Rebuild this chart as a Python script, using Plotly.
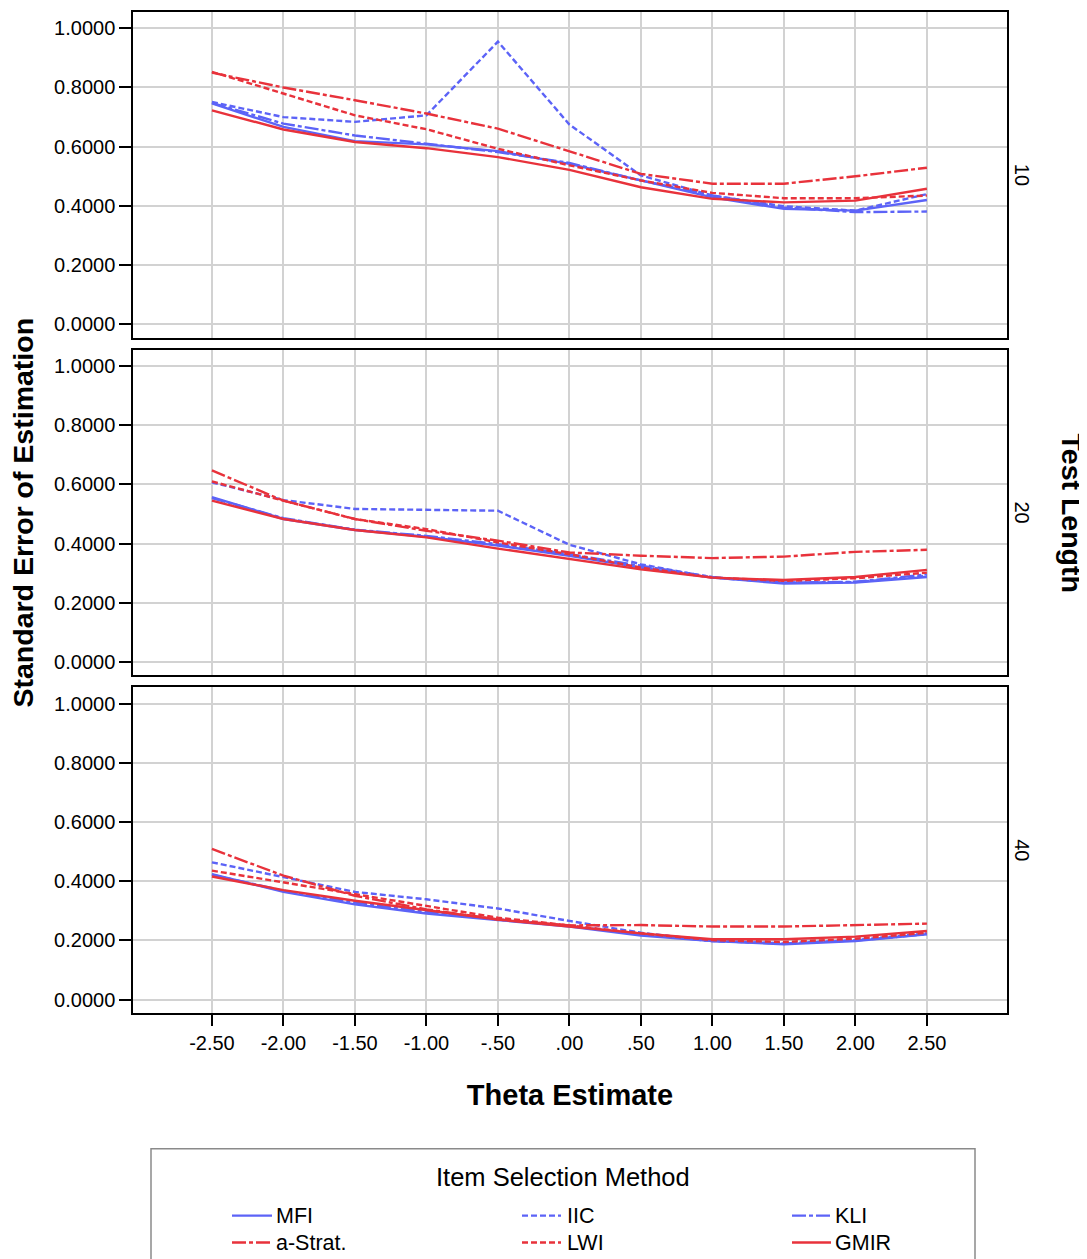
import plotly.graph_objects as go
from plotly.subplots import make_subplots

theta = [-2.5, -2.0, -1.5, -1.0, -0.5, 0.0, 0.5, 1.0, 1.5, 2.0, 2.5]
theta_labels = ["-2.50", "-2.00", "-1.50", "-1.00", "-.50", ".00", ".50", "1.00", "1.50", "2.00", "2.50"]
test_lengths = ["10", "20", "40"]
methods = ["MFI", "IIC", "KLI", "a-Strat.", "LWI", "GMIR"]

# Standard error of estimation, per test length
mfi_10 = [0.746, 0.667, 0.619, 0.608, 0.585, 0.542, 0.486, 0.429, 0.390, 0.384, 0.420]
iic_10 = [0.751, 0.700, 0.684, 0.706, 0.955, 0.675, 0.503, 0.435, 0.399, 0.384, 0.440]
kli_10 = [0.748, 0.678, 0.638, 0.610, 0.582, 0.545, 0.486, 0.435, 0.395, 0.379, 0.381]
astrat_10 = [0.850, 0.800, 0.757, 0.712, 0.661, 0.585, 0.508, 0.475, 0.475, 0.500, 0.529]
lwi_10 = [0.853, 0.780, 0.706, 0.659, 0.593, 0.537, 0.486, 0.444, 0.426, 0.426, 0.435]
gmir_10 = [0.723, 0.658, 0.616, 0.595, 0.565, 0.522, 0.463, 0.424, 0.412, 0.418, 0.458]

mfi_20 = [0.557, 0.483, 0.446, 0.423, 0.393, 0.359, 0.319, 0.285, 0.265, 0.268, 0.287]
iic_20 = [0.607, 0.547, 0.517, 0.514, 0.511, 0.396, 0.330, 0.285, 0.268, 0.270, 0.291]
kli_20 = [0.554, 0.486, 0.447, 0.426, 0.398, 0.364, 0.325, 0.287, 0.268, 0.271, 0.296]
astrat_20 = [0.647, 0.545, 0.483, 0.443, 0.410, 0.370, 0.359, 0.351, 0.356, 0.372, 0.379]
lwi_20 = [0.610, 0.545, 0.483, 0.449, 0.404, 0.364, 0.319, 0.285, 0.274, 0.283, 0.302]
gmir_20 = [0.545, 0.483, 0.446, 0.421, 0.383, 0.347, 0.313, 0.285, 0.277, 0.287, 0.311]

mfi_40 = [0.424, 0.364, 0.322, 0.291, 0.269, 0.247, 0.217, 0.198, 0.187, 0.198, 0.221]
iic_40 = [0.464, 0.413, 0.364, 0.339, 0.308, 0.266, 0.226, 0.198, 0.190, 0.201, 0.224]
kli_40 = [0.422, 0.368, 0.328, 0.296, 0.271, 0.249, 0.221, 0.198, 0.190, 0.200, 0.221]
astrat_40 = [0.509, 0.419, 0.351, 0.305, 0.271, 0.251, 0.252, 0.247, 0.247, 0.251, 0.257]
lwi_40 = [0.436, 0.396, 0.356, 0.317, 0.277, 0.251, 0.224, 0.201, 0.195, 0.206, 0.226]
gmir_40 = [0.416, 0.370, 0.334, 0.303, 0.271, 0.247, 0.224, 0.204, 0.204, 0.213, 0.232]

y_ticks = [0.0, 0.2, 0.4, 0.6, 0.8, 1.0]

panels = [
    [mfi_10, iic_10, kli_10, astrat_10, lwi_10, gmir_10],
    [mfi_20, iic_20, kli_20, astrat_20, lwi_20, gmir_20],
    [mfi_40, iic_40, kli_40, astrat_40, lwi_40, gmir_40],
]

BLUE = "#5c63f7"
RED = "#e8323b"
styles = {
    "MFI": (BLUE, "solid"),
    "IIC": (BLUE, "6px,3px"),
    "KLI": (BLUE, "14px,3px,4px,3px"),
    "a-Strat.": (RED, "14px,3px,4px,3px"),
    "LWI": (RED, "6px,3px"),
    "GMIR": (RED, "solid"),
}

# page body has an 8px margin, so the figure is sized/positioned to compensate
OFF = 8
W, H = 1087 - OFF, 1259 - OFF
ML, MR, MT, MB = 133 - OFF, 80, 10 - OFF, 246
PW = W - ML - MR
PH = H - MT - MB

def px_to_paper(px, py):
    # px, py given in screenshot pixels
    return (px - OFF - ML) / PW, (H - MB - (py - OFF)) / PH

fig = make_subplots(rows=3, cols=1, shared_xaxes=True, vertical_spacing=0.012)

draw_order = ["IIC", "KLI", "MFI", "LWI", "a-Strat.", "GMIR"]
for r, series in enumerate(panels, start=1):
    for name in draw_order:
        vals = series[methods.index(name)]
        color, dash = styles[name]
        fig.add_trace(go.Scatter(
            x=theta, y=vals, mode="lines", name=name,
            line=dict(color=color, width=2.4, dash=dash),
            showlegend=False,
        ), row=r, col=1)

FONT = "Liberation Sans, Arial, sans-serif"
for r in range(1, 4):
    fig.update_yaxes(
        range=[-0.045, 1.055], tickvals=y_ticks,
        ticktext=[f"{v:.4f}" for v in y_ticks],
        ticks="outside", ticklen=12, tickwidth=2, tickcolor="black",
        showline=True, linecolor="black", linewidth=1.5, mirror=True,
        showgrid=True, gridcolor="#d2d2d2", gridwidth=2,
        zeroline=False,
        tickfont=dict(family=FONT, size=20, color="black"),
        row=r, col=1,
    )
    fig.update_xaxes(
        range=[-3.052, 3.06], tickvals=theta, ticktext=theta_labels,
        showline=True, linecolor="black", linewidth=1.5, mirror=True,
        showgrid=True, gridcolor="#d2d2d2", gridwidth=2,
        zeroline=False,
        ticks="outside" if r == 3 else "", ticklen=11, tickwidth=2, tickcolor="black",
        showticklabels=(r == 3),
        tickfont=dict(family=FONT, size=20, color="black"),
        row=r, col=1,
    )

fig.update_xaxes(title=dict(text="<b>Theta Estimate</b>", font=dict(family=FONT, size=29, color="black"), standoff=32), row=3, col=1)

annotations = []
# facet labels on right
for r, lab in enumerate(test_lengths, start=1):
    yaxis = fig.layout["yaxis" if r == 1 else f"yaxis{r}"]
    d = yaxis.domain
    annotations.append(dict(
        text=lab, xref="paper", yref="paper", x=1.0, y=(d[0] + d[1]) / 2,
        xanchor="left", yanchor="middle", xshift=2, textangle=90, showarrow=False,
        font=dict(family=FONT, size=20, color="black"),
    ))
annotations.append(dict(
    text="<b>Test Length</b>", xref="paper", yref="paper", x=1.0, y=0.5,
    xanchor="left", yanchor="middle", xshift=47, textangle=90, showarrow=False,
    font=dict(family=FONT, size=28.5, color="black"),
))
annotations.append(dict(
    text="<b>Standard Error of Estimation</b>", xref="paper", yref="paper", x=0.0, y=0.5,
    xanchor="right", yanchor="middle", xshift=-93, textangle=-90, showarrow=False,
    font=dict(family=FONT, size=28.5, color="black"),
))

# legend box, drawn manually
shapes = []
x0, y0 = px_to_paper(151, 1149)
x1, y1 = px_to_paper(975, 1265)
shapes.append(dict(type="rect", xref="paper", yref="paper", x0=x0, y0=y0, x1=x1, y1=y1,
                   line=dict(color="#8a8a8a", width=1.5), fillcolor="white", layer="above"))
tx, ty = px_to_paper(563, 1177)
annotations.append(dict(text="Item Selection Method", xref="paper", yref="paper", x=tx, y=ty,
                        xanchor="center", yanchor="middle", showarrow=False,
                        font=dict(family=FONT, size=25.5, color="black")))
col_x = [(232, 272, 274), (522, 561, 565), (792, 831, 833)]
row_y = [1216, 1243]
for i, name in enumerate(methods):
    rr, cc = divmod(i, 3)
    lx0, lx1, txx = col_x[cc]
    py = row_y[rr]
    color, dash = styles[name]
    a0, b0 = px_to_paper(lx0, py)
    a1, _ = px_to_paper(lx1, py)
    shapes.append(dict(type="line", xref="paper", yref="paper", x0=a0, y0=b0, x1=a1, y1=b0,
                       line=dict(color=color, width=2.4, dash=dash), layer="above"))
    at, bt = px_to_paper(txx, py)
    annotations.append(dict(text=name, xref="paper", yref="paper", x=at, y=bt,
                            xanchor="left", yanchor="middle", showarrow=False,
                            font=dict(family=FONT, size=21.5, color="black")))

fig.update_layout(
    width=W, height=H,
    margin=dict(l=ML, r=MR, t=MT, b=MB),
    paper_bgcolor="white", plot_bgcolor="white",
    showlegend=False,
    annotations=annotations, shapes=shapes,
    font=dict(family=FONT, color="black"),
)

fig.write_html("out.html")
